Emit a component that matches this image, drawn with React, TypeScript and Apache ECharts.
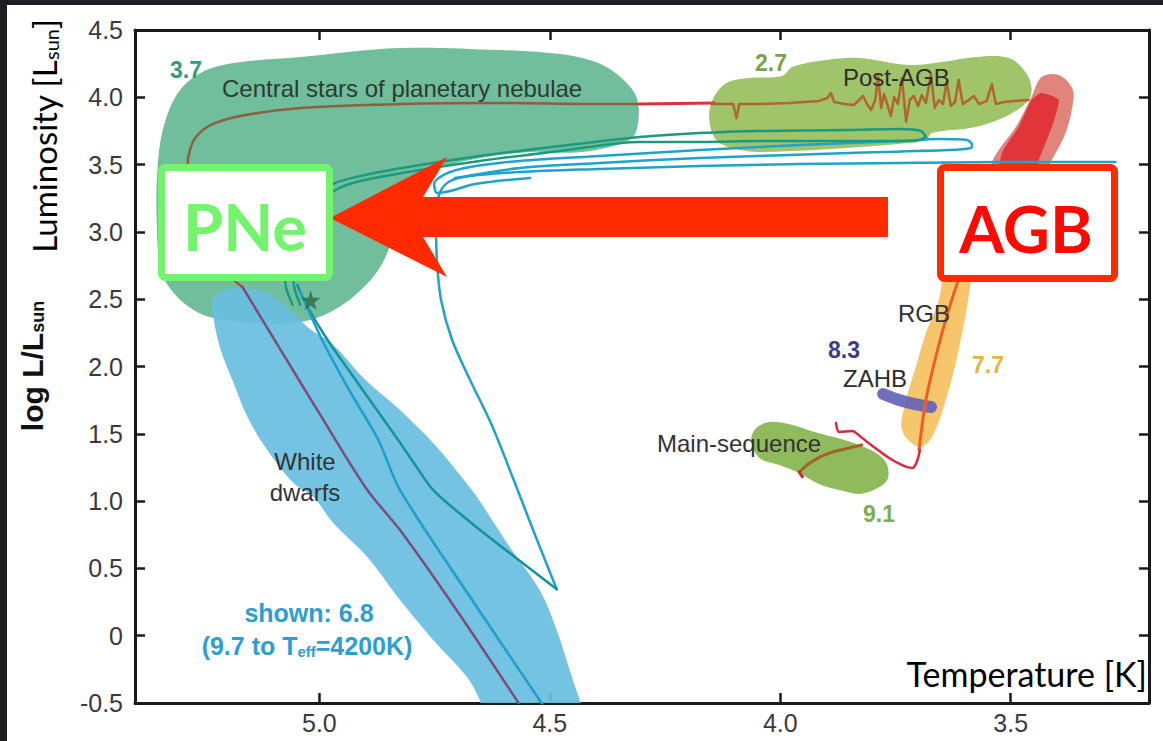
import React, { useEffect, useRef } from "react";
import * as echarts from "echarts";

// Axis ticks (log Teff on x, log L/Lsun on y)
const tempTicks = [3.5, 4.0, 4.5, 5.0];
const tempRange = [3.2, 5.4];
const lumRange = [-0.5, 4.5];

// Shaded evolutionary phases: outlines in (log Teff, log L)
const cspnRegion = [
  [5.351, 3.482], [5.338, 3.779], [5.307, 4.032], [5.258, 4.181], [5.186, 4.255],
  [5.041, 4.299], [4.825, 4.366], [4.608, 4.351], [4.5, 4.329], [4.429, 4.292],
  [4.377, 4.225], [4.333, 4.106], [4.31, 3.98], [4.31, 3.779], [4.327, 3.683],
  [4.429, 3.594], [4.543, 3.594], [4.673, 3.534], [4.76, 3.445], [4.814, 3.274],
  [4.842, 2.94], [4.872, 2.717], [4.922, 2.531], [4.976, 2.405], [5.041, 2.331],
  [5.149, 2.323], [5.229, 2.36], [5.273, 2.42], [5.316, 2.546], [5.344, 2.717],
  [5.353, 3.088],
];
const postAgbRegion = [
  [4.147, 3.98], [4.117, 4.106], [4.067, 4.143], [3.996, 4.158], [3.974, 4.225],
  [3.9, 4.277], [3.829, 4.292], [3.721, 4.24], [3.649, 4.262], [3.576, 4.299],
  [3.504, 4.292], [3.468, 4.188], [3.455, 4.077], [3.461, 3.98], [3.504, 3.869],
  [3.576, 3.779], [3.671, 3.735], [3.684, 3.683], [3.829, 3.631], [4.045, 3.594],
  [4.104, 3.623], [4.139, 3.683], [4.154, 3.831],
];
const agbOuterRegion = [
  [3.433, 4.151], [3.396, 4.166], [3.368, 4.077], [3.364, 3.98], [3.381, 3.735],
  [3.411, 3.534], [3.45, 3.274], [3.494, 3.014], [3.548, 2.866], [3.58, 2.903],
  [3.569, 3.126], [3.541, 3.512], [3.526, 3.608], [3.489, 3.779], [3.455, 4.002],
];
const agbInnerRegion = [
  [3.433, 4.032], [3.396, 3.98], [3.411, 3.779], [3.439, 3.534], [3.472, 3.237],
  [3.515, 2.977], [3.548, 2.94], [3.537, 3.237], [3.519, 3.586], [3.483, 3.779],
  [3.455, 3.98],
];
const rgbRegion = [
  [3.58, 2.94], [3.587, 2.62], [3.613, 2.123], [3.641, 1.751], [3.671, 1.476],
  [3.699, 1.402], [3.736, 1.528], [3.727, 1.751], [3.706, 1.996], [3.684, 2.249],
  [3.656, 2.494], [3.634, 2.866],
];
const mainSequenceRegion = [
  [4.063, 1.454], [4.052, 1.543], [4.024, 1.588], [3.981, 1.573], [3.926, 1.513],
  [3.861, 1.454], [3.818, 1.402], [3.786, 1.343], [3.768, 1.268], [3.768, 1.157],
  [3.797, 1.082], [3.829, 1.053], [3.872, 1.082], [3.916, 1.127], [3.959, 1.209],
  [4.002, 1.268], [4.045, 1.32],
];
const whiteDwarfRegion = [
  [5.203, 2.568], [5.232, 2.494], [5.229, 2.345], [5.214, 2.123], [5.186, 1.877],
  [5.156, 1.625], [5.113, 1.38], [5.056, 1.134], [5.013, 1.03], [4.97, 0.837],
  [4.896, 0.585], [4.825, 0.265], [4.753, -0.032], [4.68, -0.307], [4.652, -0.478],
  [4.645, -0.589], [4.424, -0.589], [4.435, -0.478], [4.457, -0.255], [4.485, 0.042],
  [4.522, 0.34], [4.587, 0.659], [4.658, 1.03], [4.695, 1.194], [4.749, 1.417],
  [4.825, 1.677], [4.9, 1.9], [4.97, 2.16], [5.026, 2.293], [5.056, 2.397],
  [5.113, 2.546], [5.171, 2.583],
];
const zahbStrip = [[3.777, 1.796], [3.742, 1.751], [3.708, 1.721], [3.673, 1.699]];

// Evolutionary tracks
const cspnTrack = [
  [4.305, 3.95], [4.392, 3.95], [4.608, 3.958], [4.825, 3.95], [5.041, 3.921],
  [5.171, 3.861], [5.236, 3.794], [5.268, 3.705], [5.281, 3.608], [5.286, 3.497],
  [5.279, 3.237], [5.258, 2.94], [5.21, 2.717], [5.167, 2.591],
];
const wdCoolingTrack = [
  [5.167, 2.591], [5.084, 2.123], [4.998, 1.64], [4.896, 1.082], [4.825, 0.785],
  [4.695, 0.154], [4.565, -0.515],
];
const superwindGap = [[4.305, 3.95], [4.143, 3.958]];
const postAgbTrack = [
  [4.149, 3.95], [4.11, 3.95], [4.102, 3.95], [4.095, 3.846], [4.089, 3.95],
  [4.045, 3.95], [3.981, 3.958], [3.916, 3.973], [3.898, 3.995], [3.89, 4.032],
  [3.883, 3.965], [3.861, 3.95], [3.84, 3.943], [3.829, 3.98], [3.82, 4.01],
  [3.812, 3.95], [3.803, 3.906], [3.794, 3.98], [3.788, 4.158], [3.781, 3.921],
  [3.775, 4.025], [3.768, 3.95], [3.76, 3.861], [3.753, 4.002], [3.745, 3.95],
  [3.736, 4.143], [3.727, 3.817], [3.719, 3.98], [3.71, 4.01], [3.701, 3.935],
  [3.693, 4.017], [3.684, 3.958], [3.673, 4.173], [3.665, 3.921], [3.656, 3.98],
  [3.647, 3.95], [3.639, 4.114], [3.63, 3.935], [3.621, 3.965], [3.613, 4.129],
  [3.604, 3.95], [3.591, 3.98], [3.58, 4.01], [3.569, 3.95], [3.552, 3.973],
  [3.541, 4.099], [3.532, 3.95], [3.515, 3.965], [3.494, 3.973], [3.461, 3.98],
];
const rgbTrack = [
  [3.699, 1.38], [3.684, 1.751], [3.656, 2.16], [3.628, 2.494], [3.602, 2.754], [3.58, 2.94],
];
const subgiantHook = [
  [3.879, 1.58], [3.872, 1.513], [3.844, 1.521], [3.825, 1.476], [3.803, 1.417],
  [3.764, 1.32], [3.732, 1.261], [3.714, 1.246], [3.704, 1.291], [3.697, 1.38],
];
const mainSequenceTrack = [
  [3.959, 1.216], [3.933, 1.291], [3.894, 1.357], [3.851, 1.394], [3.823, 1.417],
];
const mainSequenceStart = [[3.959, 1.216], [3.952, 1.18]];
const massiveTrackOuter = [
  [3.273, 3.519], [3.526, 3.519], [3.742, 3.512], [3.959, 3.504], [4.175, 3.49],
  [4.392, 3.467], [4.565, 3.445], [4.673, 3.415], [4.716, 3.378], [4.738, 3.296],
  [4.747, 3.126], [4.745, 2.791], [4.736, 2.494], [4.712, 2.197], [4.673, 1.9],
  [4.626, 1.565], [4.58, 1.172], [4.532, 0.748], [4.485, 0.345],
];
const massiveTrackReturn = [
  [4.485, 0.345], [4.587, 0.614], [4.673, 0.845], [4.753, 1.082], [4.792, 1.268],
  [4.829, 1.454], [4.872, 1.662], [4.929, 1.937], [4.985, 2.212], [5.028, 2.457],
  [5.048, 2.606],
];
const massiveTrackLoop = [
  [4.706, 3.4], [4.565, 3.475], [4.392, 3.512], [4.175, 3.549], [3.851, 3.586],
  [3.634, 3.608], [3.587, 3.623], [3.584, 3.646], [3.595, 3.683], [3.656, 3.69],
  [3.742, 3.675], [3.959, 3.646], [4.175, 3.608], [4.392, 3.564], [4.565, 3.527],
  [4.673, 3.482], [4.727, 3.43], [4.751, 3.356], [4.745, 3.289], [4.716, 3.304],
  [4.662, 3.356], [4.543, 3.4],
];
const massiveWdTrack = [
  [5.041, 2.553], [4.994, 2.197], [4.933, 1.811], [4.872, 1.454], [4.825, 1.082],
  [4.673, 0.288], [4.515, -0.515],
];
const intermediateTrackA = [
  [3.684, 3.705], [3.695, 3.75], [3.742, 3.764], [3.851, 3.757], [4.045, 3.75],
  [4.175, 3.735], [4.305, 3.705], [4.478, 3.638], [4.652, 3.564], [4.781, 3.497],
  [4.911, 3.415], [4.976, 3.348], [5.03, 3.2], [5.063, 2.94], [5.074, 2.628],
  [5.058, 2.457],
];
const intermediateTrackB = [
  [3.684, 3.705], [3.71, 3.675], [3.829, 3.675], [4.045, 3.675], [4.175, 3.668],
  [4.305, 3.668], [4.478, 3.601], [4.652, 3.527], [4.781, 3.46], [4.911, 3.378],
  [4.965, 3.311], [5.015, 3.163], [5.045, 2.903], [5.056, 2.628], [5.041, 2.457],
];
const centralStar = [[5.019, 2.494]];

const STAR_PATH =
  "path://M50,0 L61,35 L98,35 L68,57 L79,91 L50,70 L21,91 L32,57 L2,35 L39,35 Z";
const SANS = "Liberation Sans";

function region(pts: number[][], fill: string, z: number, smooth = 0.35) {
  return {
    type: "custom",
    coordinateSystem: "cartesian2d",
    clip: true,
    silent: true,
    z,
    data: [pts[0]],
    renderItem: (_p: any, api: any) => ({
      type: "polygon",
      shape: { points: pts.map((p) => api.coord(p)), smooth },
      style: { fill },
    }),
  };
}

function track(pts: number[][], color: string, width: number, z: number, smooth: number | boolean = 0.3) {
  return {
    type: "line",
    data: pts,
    symbol: "none",
    showSymbol: false,
    smooth,
    silent: true,
    clip: true,
    z,
    lineStyle: { color, width, cap: "round", join: "round" },
  };
}

function label(text: string, x: number, y: number, color: string, size: number, bold = false, align = "left", extra: any = {}) {
  return {
    type: "text",
    x,
    y,
    z: 60,
    silent: true,
    style: {
      text,
      fill: color,
      fontSize: size,
      fontFamily: SANS,
      fontWeight: bold ? "bold" : "normal",
      align,
      textAlign: align,
      verticalAlign: "middle",
      textVerticalAlign: "middle",
      ...extra,
    },
  };
}

export default function App() {
  const ref = useRef<HTMLDivElement>(null);

  useEffect(() => {
    if (!ref.current) return;
    const chart = echarts.init(ref.current, null, { renderer: "svg" });

    const axisColor = "#1a1a1a";
    const xAxisBase = {
      type: "value",
      min: tempRange[0],
      max: tempRange[1],
      inverse: true,
      splitLine: { show: false },
      axisLine: { show: true, onZero: false, lineStyle: { color: axisColor, width: 3 } },
      axisTick: { show: true, inside: true, length: 10, customValues: tempTicks, lineStyle: { color: axisColor, width: 2.5 } },
    };
    const yAxisBase = {
      type: "value",
      min: lumRange[0],
      max: lumRange[1],
      interval: 0.5,
      splitLine: { show: false },
      axisLine: { show: true, onZero: false, lineStyle: { color: axisColor, width: 3 } },
      axisTick: { show: true, inside: true, length: 10, lineStyle: { color: axisColor, width: 2.5 } },
    };

    chart.setOption({
      animation: false,
      backgroundColor: "#ffffff",
      grid: { left: 135, right: 14, top: 30, bottom: 38 },
      xAxis: [
        {
          ...xAxisBase,
          position: "bottom",
          axisLabel: {
            customValues: tempTicks,
            formatter: (v: number) => v.toFixed(1),
            color: "#3a3a3a",
            fontSize: 25,
            fontFamily: SANS,
            margin: 7,
          },
        },
        { ...xAxisBase, position: "top", axisLabel: { show: false } },
      ],
      yAxis: [
        {
          ...yAxisBase,
          position: "left",
          axisLabel: {
            formatter: (v: number) => (v === 0 ? "0" : v.toFixed(1)),
            color: "#3a3a3a",
            fontSize: 25,
            fontFamily: SANS,
            margin: 12,
          },
        },
        { ...yAxisBase, position: "right", axisLabel: { show: false } },
      ],
      series: [
        region(cspnRegion, "#70be9c", 2),
        region(whiteDwarfRegion, "rgba(104,190,225,0.92)", 3),
        region(postAgbRegion, "#9fc46a", 2),
        region(agbOuterRegion, "rgba(220,110,100,0.85)", 2),
        region(agbInnerRegion, "#e0363a", 3, 0.2),
        region(rgbRegion, "#f7c56c", 2),
        region(mainSequenceRegion, "#8fbb5c", 2),
        track(zahbStrip, "rgba(96,96,184,0.9)", 12, 4, 0.3),
        track(cspnTrack, "#8e5e3e", 2.5, 6),
        track(wdCoolingTrack, "#7a4e78", 2.5, 6),
        track(superwindGap, "#e0303e", 3, 6, false),
        track(postAgbTrack, "#b0662c", 2.5, 6, false),
        track(rgbTrack, "#ef5f22", 3, 6),
        track(subgiantHook, "#d8283a", 2.5, 6),
        track(mainSequenceTrack, "#a2602c", 3, 6),
        track(mainSequenceStart, "#d8283a", 3, 6, false),
        track(massiveTrackOuter, "#1ea3cc", 2.5, 5),
        track(massiveTrackReturn, "#14929e", 2.5, 5),
        track(massiveTrackLoop, "#1ea3cc", 2.5, 5),
        track(massiveWdTrack, "#1b9fcb", 2.5, 5),
        track(intermediateTrackA, "#1c9a80", 2.5, 5),
        track(intermediateTrackB, "#1c9a80", 2.5, 5),
        {
          type: "scatter",
          data: centralStar,
          symbol: STAR_PATH,
          symbolSize: 20,
          silent: true,
          z: 8,
          itemStyle: { color: "#2b6a45" },
        },
      ],
      graphic: [
        // phase labels
        label("3.7", 170, 70, "#2f9c7c", 23, true),
        label("Central stars of planetary nebulae", 222, 88, "#2d3a32", 24),
        label("2.7", 755, 63, "#7aa24a", 23, true),
        label("Post-AGB", 843, 77, "#2d2d2d", 24),
        label("RGB", 898, 313, "#333333", 24),
        label("8.3", 828, 350, "#3b3b8c", 23, true),
        label("ZAHB", 843, 378, "#2d2d2d", 24),
        label("7.7", 972, 365, "#e8b440", 23, true),
        label("Main-sequence", 657, 443, "#333333", 24),
        label("9.1", 863, 514, "#7ab04c", 23, true),
        label("White", 305, 461, "#333333", 24, false, "center"),
        label("dwarfs", 305, 492, "#333333", 24, false, "center"),
        label("shown: 6.8", 309, 613, "#2a9fd0", 25, true, "center"),
        label("(9.7 to T{s|eff}=4200K)", 307, 646, "#2a9fd0", 25, true, "center", {
          rich: { s: { fontSize: 15, fontWeight: "bold", fontFamily: SANS, fill: "#2a9fd0", lineHeight: 8, verticalAlign: "bottom" } },
        }),
        // axis titles
        {
          type: "text",
          x: 44,
          y: 136,
          rotation: Math.PI / 2,
          z: 60,
          silent: true,
          style: {
            text: "Luminosity [L{s|sun}]",
            fill: "#000",
            fontSize: 33,
            fontFamily: "Lato",
            align: "center",
            textAlign: "center",
            verticalAlign: "middle",
            textVerticalAlign: "middle",
            rich: { s: { fontSize: 20, fontFamily: "Lato", fill: "#000", lineHeight: 10, verticalAlign: "bottom" } },
          },
        },
        {
          type: "text",
          x: 32,
          y: 366,
          rotation: Math.PI / 2,
          z: 60,
          silent: true,
          style: {
            text: "log L/L{s|sun}",
            fill: "#111",
            fontSize: 30,
            fontWeight: "bold",
            fontFamily: SANS,
            align: "center",
            textAlign: "center",
            verticalAlign: "middle",
            textVerticalAlign: "middle",
            rich: { s: { fontSize: 18, fontWeight: "bold", fontFamily: SANS, fill: "#111", lineHeight: 10, verticalAlign: "bottom" } },
          },
        },
        {
          type: "text",
          x: 1147,
          y: 673,
          z: 60,
          silent: true,
          style: {
            text: "Temperature [K]",
            fill: "#000",
            fontSize: 34,
            fontFamily: "Lato",
            align: "right",
            textAlign: "right",
            verticalAlign: "middle",
            textVerticalAlign: "middle",
          },
        },
        // arrow from AGB to PNe
        {
          type: "polygon",
          z: 100,
          silent: true,
          shape: { points: [[330, 218], [447, 157], [423, 197], [888, 197], [888, 237], [423, 237], [447, 277]] },
          style: { fill: "#ff2a00" },
        },
        {
          type: "rect",
          z: 100,
          silent: true,
          shape: { x: 161.5, y: 167.5, width: 168, height: 110, r: 4 },
          style: { fill: "#ffffff", stroke: "#72f46c", lineWidth: 7 },
        },
        {
          type: "text",
          x: 245,
          y: 226,
          z: 101,
          silent: true,
          style: {
            text: "PNe",
            fill: "#72f46c",
            fontSize: 65,
            fontWeight: "bold",
            fontFamily: "Lato",
            align: "center",
            textAlign: "center",
            verticalAlign: "middle",
            textVerticalAlign: "middle",
          },
        },
        {
          type: "rect",
          z: 100,
          silent: true,
          shape: { x: 940.5, y: 167.5, width: 174, height: 111, r: 4 },
          style: { fill: "#ffffff", stroke: "#ff2a00", lineWidth: 7 },
        },
        {
          type: "text",
          x: 1026,
          y: 228,
          z: 101,
          silent: true,
          style: {
            text: "AGB",
            fill: "#ff0a00",
            fontSize: 65,
            fontWeight: "bold",
            fontFamily: "Lato",
            align: "center",
            textAlign: "center",
            verticalAlign: "middle",
            textVerticalAlign: "middle",
          },
        },
        // dark slide frame
        { type: "rect", z: 200, silent: true, shape: { x: 0, y: 0, width: 1163, height: 5 }, style: { fill: "#1d1f25" } },
        { type: "rect", z: 200, silent: true, shape: { x: 0, y: 0, width: 7, height: 741 }, style: { fill: "#1d1f25" } },
      ],
    });

    return () => chart.dispose();
  }, []);

  return (
    <div
      ref={ref}
      style={{ position: "fixed", left: 0, top: 0, width: 1163, height: 741 }}
    />
  );
}
